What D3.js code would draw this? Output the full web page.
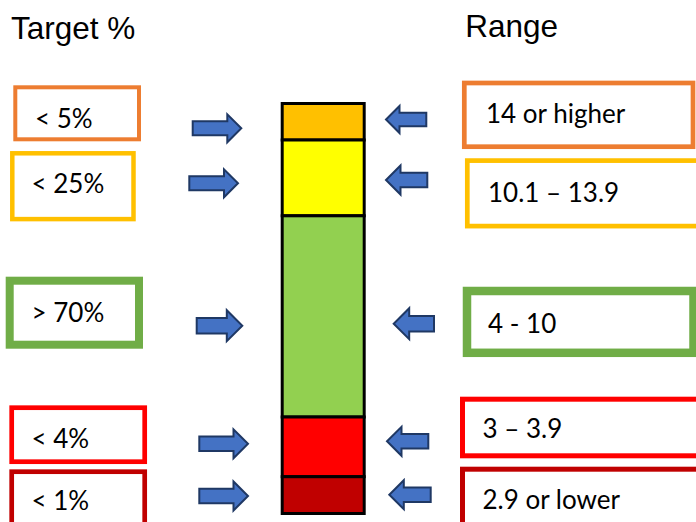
<!DOCTYPE html>
<html>
<head>
<meta charset="utf-8">
<script src="https://cdn.jsdelivr.net/npm/d3@7"></script>
<style>
  html, body { margin: 0; padding: 0; background: #ffffff; }
  svg { display: block; }
</style>
</head>
<body>
<div id="chart"></div>
<script>
// Levels, top of the bar to the bottom
const levels = ["veryHigh", "high", "inRange", "low", "veryLow"];
const targetLabels = ["< 5%", "< 25%", "> 70%", "< 4%", "< 1%"];
const rangeLabels = ["14 or higher", "10.1 \u2013 13.9", "4 - 10", "3 \u2013 3.9", "2.9 or lower"];
// Relative height of each band in the stacked bar
const bandHeights = [3.65, 7.58, 20.12, 5.97, 3.68];

// Styles
const bandFill = ["#FFC000", "#FFFF00", "#92D050", "#FF0000", "#C00000"];
const boxStroke = ["#ED7D31", "#FFC000", "#70AD47", "#FF0000", "#C00000"];
const arrowFill = "#4472C4";
const arrowStroke = "#1F3864";

// Annotation layout (boxes and arrows placed around the bar)
const leftBoxes = [
  { x: 15.3, y: 87.3, w: 123.7, h: 52, sw: 4, tx: 35, ty: 128.3 },
  { x: 12.3, y: 153.3, w: 121.2, h: 65.8, sw: 4.5, tx: 31.5, ty: 193.3 },
  { x: 9.7, y: 280.7, w: 129.3, h: 64, sw: 8, tx: 31.5, ty: 322 },
  { x: 11.7, y: 407.7, w: 133, h: 54, sw: 4.7, tx: 31.5, ty: 447.7 },
  { x: 11.7, y: 471.7, w: 133, h: 70, sw: 4.7, tx: 31.5, ty: 510 }
];
const rightBoxes = [
  { x: 464.3, y: 83, w: 228.7, h: 63.7, sw: 4.7, tx: 486, ty: 123.3 },
  { x: 467.3, y: 160.6, w: 260, h: 65.5, sw: 4.7, tx: 488, ty: 201.7 },
  { x: 467.0, y: 291.0, w: 226.5, h: 61.8, sw: 8.5, tx: 488, ty: 333.3 },
  { x: 462.5, y: 399.2, w: 260, h: 56.6, sw: 5, tx: 482.5, ty: 438.3 },
  { x: 462.5, y: 469.2, w: 260, h: 80, sw: 5, tx: 482.5, ty: 509.3 }
];
const leftArrows = [
  { x0: 191.7, x1: 242.3, cy: 128.3, h: 30 },
  { x0: 188.3, x1: 239.0, cy: 183.3, h: 30 },
  { x0: 195.7, x1: 243.3, cy: 325.7, h: 33 },
  { x0: 198.3, x1: 249.0, cy: 443.8, h: 31 },
  { x0: 198.3, x1: 249.0, cy: 496.0, h: 31 }
];
const rightArrows = [
  { x0: 385.0, x1: 427.3, cy: 119.5, h: 29 },
  { x0: 385.0, x1: 428.3, cy: 180.0, h: 31 },
  { x0: 392.7, x1: 435.0, cy: 323.7, h: 33 },
  { x0: 386.0, x1: 429.3, cy: 441.3, h: 31 },
  { x0: 388.3, x1: 431.7, cy: 494.7, h: 31 }
];

const width = 696, height = 522;
const svg = d3.select("#chart").append("svg")
  .attr("width", width).attr("height", height);

// Scales for the single stacked bar
const total = d3.sum(bandHeights);
const y = d3.scaleLinear().domain([0, total]).range([103.5, 513.5]);
const x = d3.scaleBand().domain(["bar"]).range([282.2, 364.2]).padding(0);

const cum = d3.cumsum(bandHeights);
const bands = levels.map((k, i) => ({
  key: k, start: i === 0 ? 0 : cum[i - 1], end: cum[i], fill: bandFill[i]
}));

svg.append("g").selectAll("rect")
  .data(bands)
  .join("rect")
  .attr("x", x("bar"))
  .attr("width", x.bandwidth())
  .attr("y", d => y(d.start))
  .attr("height", d => y(d.end) - y(d.start))
  .attr("fill", d => d.fill)
  .attr("stroke", "#000")
  .attr("stroke-width", 3);

// Titles
svg.append("text").attr("x", 11).attr("y", 39.3)
  .attr("font-family", "'Liberation Sans', Arial, sans-serif")
  .attr("font-size", 31.5).attr("fill", "#000").text("Target %");
svg.append("text").attr("x", 465.3).attr("y", 37)
  .attr("font-family", "'Liberation Sans', Arial, sans-serif")
  .attr("font-size", 31.5).attr("fill", "#000").text("Range");

// Labelled boxes
function drawBoxes(layout, labels) {
  const g = svg.append("g");
  const items = layout.map((b, i) => ({ ...b, label: labels[i], color: boxStroke[i] }));
  g.selectAll("rect").data(items).join("rect")
    .attr("x", d => d.x).attr("y", d => d.y)
    .attr("width", d => d.w).attr("height", d => d.h)
    .attr("fill", "#fff").attr("stroke", d => d.color)
    .attr("stroke-width", d => d.sw);
  g.selectAll("text").data(items).join("text")
    .attr("x", d => d.tx).attr("y", d => d.ty)
    .attr("font-family", "Lato, 'Open Sans', sans-serif")
    .attr("font-size", 26).attr("fill", "#000")
    .text(d => d.label);
}
drawBoxes(leftBoxes, targetLabels);
drawBoxes(rightBoxes, rangeLabels);

// Block arrows
const line = d3.line();
function arrowPoints(a, dir) {
  const inset = 1;
  const x0 = a.x0 + inset, x1 = a.x1 - inset;
  const h = a.h - 2 * inset, sh = h * 0.5, hl = h * 0.5;
  const cy = a.cy;
  if (dir > 0) {
    return [[x0, cy - sh / 2], [x1 - hl, cy - sh / 2], [x1 - hl, cy - h / 2], [x1, cy],
            [x1 - hl, cy + h / 2], [x1 - hl, cy + sh / 2], [x0, cy + sh / 2]];
  }
  return [[x1, cy - sh / 2], [x0 + hl, cy - sh / 2], [x0 + hl, cy - h / 2], [x0, cy],
          [x0 + hl, cy + h / 2], [x0 + hl, cy + sh / 2], [x1, cy + sh / 2]];
}
svg.append("g").selectAll("path")
  .data(leftArrows.map(a => arrowPoints(a, 1)).concat(rightArrows.map(a => arrowPoints(a, -1))))
  .join("path")
  .attr("d", p => line(p) + "Z")
  .attr("fill", arrowFill)
  .attr("stroke", arrowStroke)
  .attr("stroke-width", 2)
  .attr("stroke-linejoin", "miter");
</script>
</body>
</html>
